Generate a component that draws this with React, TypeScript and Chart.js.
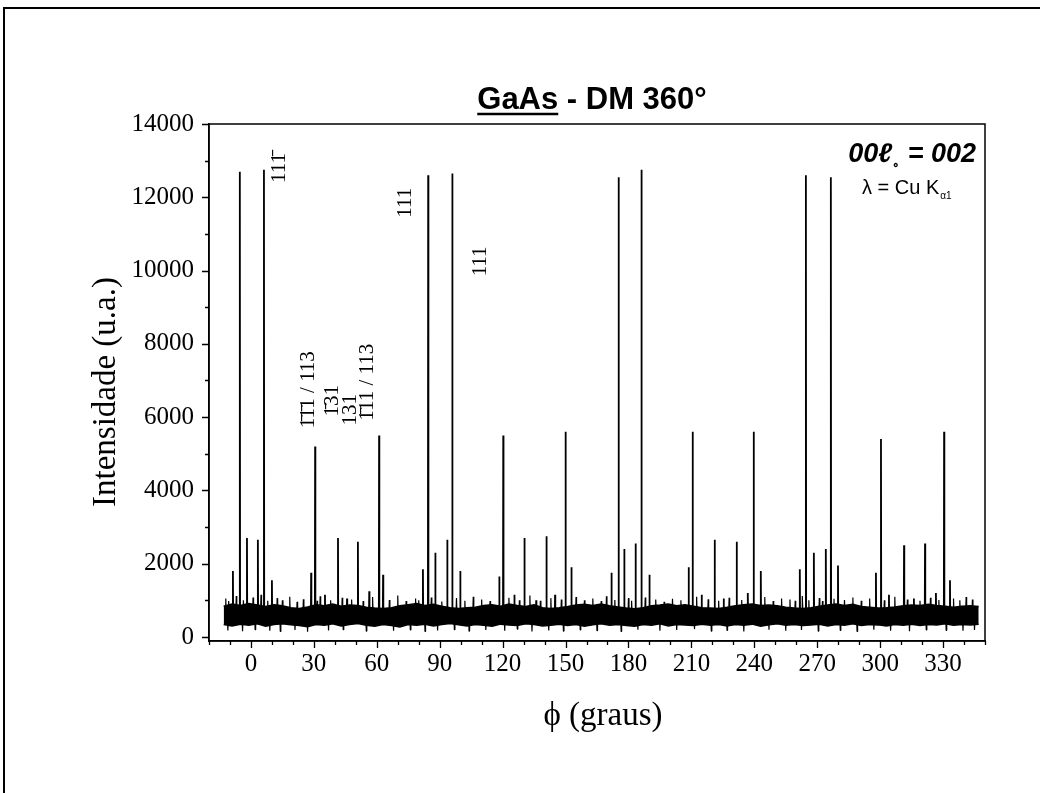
import React, { useEffect, useRef } from 'react';
import { Chart, registerables } from 'chart.js';

Chart.register(...registerables);

// ---- axes ----
const xMin = -20;
const xMax = 350;
const yMin = -110;
const yMax = 14000;
const xMajorTicks = [0, 30, 60, 90, 120, 150, 180, 210, 240, 270, 300, 330];
const xMinorTicks = [-20, -10, 10, 20, 40, 50, 70, 80, 100, 110, 130, 140, 160, 170, 190, 200, 220, 230, 250, 260, 280, 290, 310, 320, 340, 350];
const yMajorTicks = [0, 2000, 4000, 6000, 8000, 10000, 12000, 14000];
const yMinorTicks = [1000, 3000, 5000, 7000, 9000, 11000, 13000];

// ---- Bragg peaks (phi in degrees, intensity) ----
const peakPhi = [
  -8.6, -5.3, -1.9, 3.3, 6.2, 10.0,
  28.7, 30.6, 35.3, 41.5, 45.8, 51.0, 56.4, 61.1, 63.0,
  82.0, 84.5, 87.9, 93.6, 96.0, 99.8,
  118.4, 120.3, 125.6, 130.4, 136.0, 140.9, 145.0, 150.0, 152.8,
  171.9, 175.3, 178.0, 183.4, 186.2, 190.0,
  208.7, 210.6, 214.9, 221.1, 225.4, 231.6, 236.9, 239.7, 243.1,
  261.7, 264.6, 268.4, 274.1, 276.5, 279.9,
  298.0, 300.4, 304.2, 311.4, 316.1, 321.4, 326.6, 330.5, 333.3,
];
const peakIntensity = [
  1800, 12700, 2700, 2650, 12750, 1550,
  1750, 5200, 1150, 2700, 1050, 2600, 1250, 5500, 1700,
  1850, 12600, 2300, 2650, 12650, 1800,
  1650, 5500, 1150, 2700, 1000, 2750, 1150, 5600, 1900,
  1750, 12550, 2400, 2550, 12750, 1700,
  1900, 5600, 1150, 2650, 1050, 2600, 1200, 5600, 1800,
  1850, 12600, 2300, 2400, 12550, 1950,
  1750, 5400, 1150, 2500, 1050, 2550, 1200, 5600, 1550,
];
const peakBase = 580;

// ---- background noise band (upper / lower envelope, every 4 degrees from -13) ----
const noiseStart = -13;
const noiseStep = 4;
const noiseHigh = [
  840, 900, 860, 910, 870, 830, 880, 850, 800, 780,
  820, 880, 850, 900, 840, 870, 860, 810, 790, 780,
  800, 850, 880, 910, 860, 890, 840, 800, 780, 800,
  810, 860, 880, 840, 900, 860, 830, 880, 800, 780,
  800, 830, 870, 890, 860, 900, 850, 820, 790, 770,
  800, 850, 870, 900, 850, 880, 840, 800, 790, 780,
  810, 850, 880, 900, 860, 870, 850, 810, 790, 780,
  800, 840, 870, 900, 860, 890, 830, 810, 790, 800,
  820, 850, 870, 860, 890, 860, 840, 810, 840, 850, 830,
];
const noiseLow = [
  340, 300, 350, 320, 360, 290, 340, 360, 330, 310,
  280, 340, 320, 360, 300, 340, 370, 320, 290, 340,
  310, 270, 340, 320, 350, 300, 340, 370, 330, 300,
  340, 320, 290, 350, 330, 310, 360, 340, 300, 320,
  350, 310, 340, 290, 330, 360, 320, 340, 310, 290,
  340, 320, 360, 300, 340, 330, 310, 350, 320, 340,
  300, 340, 320, 350, 290, 330, 360, 320, 340, 310,
  330, 350, 300, 340, 320, 360, 310, 340, 330, 300,
  340, 320, 350, 310, 340, 330, 360, 320, 340, 330, 350,
];

// ---- small noise excursions above / below the band ----
const noiseSpikePhi = [
  -12, -11, -10.5, -7, -4, -3.5, 1, 2, 4.8, 8, 9, 12.5, 14, 15, 18.5, 21, 22, 25, 27, 31.5,
  33, 37, 38, 43.5, 44, 48, 53.5, 55, 58, 66, 68, 70, 74, 76, 78.5, 80, 83, 86, 89, 91,
  97, 98, 102, 104, 106, 110, 112, 114, 121, 123, 127, 128, 133, 134, 138, 142, 143, 148, 149, 155,
  157, 159, 163, 165, 167, 169.5, 173.5, 176.5, 180, 181.5, 184.5, 188, 193, 195, 197, 201, 203, 205, 211.5, 212.5,
  218, 219.5, 223, 227, 228, 234, 235, 245, 247, 249, 253, 255, 257, 259.5, 262.5, 263, 266, 270.5, 271, 272.5,
  278, 281, 283, 287, 289, 291, 295, 297, 302, 305, 307, 313, 314, 319, 322, 324, 328, 331.5, 335, 338,
  339.5, 341, 344, 345,
];
const noiseSpikeValue = [
  1050, 180, 980, 1120, 160, 1000, 1080, 200, 1150, 990, 170, 1060, 150, 1000, 1100, 190, 960, 1030, 140, 990,
  1110, 180, 1000, 1070, 200, 1020, 980, 160, 1090, 1010, 170, 1130, 980, 190, 1050, 1000, 150, 1080, 180, 970,
  200, 1060, 990, 160, 1100, 1020, 190, 980, 170, 1070, 210, 1000, 1130, 150, 990, 180, 1060, 1020, 160, 1090,
  190, 1000, 1050, 170, 980, 1110, 1010, 150, 1060, 990, 200, 1080, 1020, 170, 960, 1040, 190, 1000, 210, 1100,
  1030, 160, 990, 180, 1070, 1010, 150, 1090, 200, 980, 1050, 170, 1020, 990, 190, 1120, 1000, 160, 1060, 980,
  1040, 180, 1010, 1080, 150, 990, 1050, 200, 1000, 170, 1100, 1020, 160, 990, 190, 1070, 1010, 180, 1050, 1000,
  170, 1090, 1020, 190,
];
const noiseSpikeBase = 580;

// ---- peak indexing labels ----
const peakLabelText = ['11\u0031\u0304', '111', '111', '\u0031\u0304\u0031\u0304\u0031 / 113', '\u0031\u030411 / 113', '\u0031\u030431', '131'];
const peakLabelPhi = [13.8, 73.5, 109.4, 27.2, 55.4, 39.0, 47.5];
const peakLabelValue = [12800, 11850, 10250, 6750, 6950, 6450, 6200];

const SERIF = '"Liberation Serif", "Times New Roman", serif';
const SANS = '"Liberation Sans", Arial, sans-serif';

const decorPlugin = {
  id: 'decor',
  beforeDraw(chart: any) {
    const ctx = chart.ctx;
    ctx.save();
    ctx.fillStyle = '#ffffff';
    ctx.fillRect(0, 0, chart.width, chart.height);
    ctx.restore();
  },
  afterDraw(chart: any) {
    const ctx = chart.ctx as CanvasRenderingContext2D;
    const a = chart.chartArea;
    const xs = chart.scales.x;
    const ys = chart.scales.y;
    ctx.save();
    ctx.strokeStyle = '#000';
    ctx.fillStyle = '#000';

    // page frame (top and left)
    ctx.lineWidth = 2;
    ctx.beginPath();
    ctx.moveTo(4, 793);
    ctx.lineTo(4, 8);
    ctx.lineTo(1040, 8);
    ctx.stroke();

    // plot box
    ctx.lineWidth = 1.5;
    ctx.strokeRect(a.left, a.top, a.right - a.left, a.bottom - a.top);

    // ticks
    ctx.lineWidth = 1.3;
    ctx.beginPath();
    for (const v of xMajorTicks) {
      const p = Math.round(xs.getPixelForValue(v)) + 0.5;
      ctx.moveTo(p, a.bottom);
      ctx.lineTo(p, a.bottom + 7);
    }
    for (const v of xMinorTicks) {
      const p = Math.round(xs.getPixelForValue(v)) + 0.5;
      ctx.moveTo(p, a.bottom);
      ctx.lineTo(p, a.bottom + 4);
    }
    for (const v of yMajorTicks) {
      const p = Math.round(ys.getPixelForValue(v)) + 0.5;
      ctx.moveTo(a.left, p);
      ctx.lineTo(a.left - 7, p);
    }
    for (const v of yMinorTicks) {
      const p = Math.round(ys.getPixelForValue(v)) + 0.5;
      ctx.moveTo(a.left, p);
      ctx.lineTo(a.left - 4, p);
    }
    ctx.stroke();

    // title with underlined "GaAs"
    ctx.font = 'bold 31px ' + SANS;
    ctx.textBaseline = 'alphabetic';
    ctx.textAlign = 'left';
    const t1 = 'GaAs';
    const t2 = ' - DM 360\u00B0';
    const w1 = ctx.measureText(t1).width;
    const w2 = ctx.measureText(t2).width;
    const tx = 592 - (w1 + w2) / 2;
    const ty = 109;
    ctx.fillText(t1, tx, ty);
    ctx.fillText(t2, tx + w1, ty);
    ctx.lineWidth = 2.5;
    ctx.beginPath();
    ctx.moveTo(tx, ty + 5);
    ctx.lineTo(tx + w1, ty + 5);
    ctx.stroke();

    // axis titles
    ctx.font = '33px ' + SERIF;
    ctx.textAlign = 'center';
    ctx.textBaseline = 'middle';
    ctx.fillText('\u03D5 (graus)', 603, 716);
    ctx.save();
    ctx.translate(106, 392);
    ctx.rotate(-Math.PI / 2);
    ctx.fillText('Intensidade (u.a.)', 0, 0);
    ctx.restore();

    // annotation top-right
    const rx = 976;
    ctx.textBaseline = 'alphabetic';
    ctx.textAlign = 'left';
    const bigFont = 'italic bold 27px ' + SANS;
    ctx.font = bigFont;
    const s1 = '00\u2113';
    const s3 = ' = 002';
    const ws1 = ctx.measureText(s1).width;
    const ws3 = ctx.measureText(s3).width;
    ctx.font = 'bold 12px ' + SANS;
    const s2 = '\u2218';
    const ws2 = ctx.measureText(s2).width;
    const sx = rx - (ws1 + ws2 + ws3);
    const sy = 162;
    ctx.font = bigFont;
    ctx.fillText(s1, sx, sy);
    ctx.font = 'bold 12px ' + SANS;
    ctx.fillText(s2, sx + ws1, sy + 7);
    ctx.font = bigFont;
    ctx.fillText(s3, sx + ws1 + ws2, sy);

    ctx.font = '20px ' + SANS;
    const l1 = '\u03BB = Cu K';
    const wl1 = ctx.measureText(l1).width;
    ctx.fillText(l1, 862, 194);
    ctx.font = '10px ' + SANS;
    ctx.fillText('\u03B11', 862 + wl1 + 1, 199);

    // peak labels (rotated)
    ctx.font = '21px ' + SERIF;
    ctx.textAlign = 'center';
    ctx.textBaseline = 'middle';
    for (let i = 0; i < peakLabelText.length; i++) {
      const px = xs.getPixelForValue(peakLabelPhi[i]);
      const py = ys.getPixelForValue(peakLabelValue[i]);
      ctx.save();
      ctx.translate(px, py);
      ctx.rotate(-Math.PI / 2);
      ctx.fillText(peakLabelText[i], 0, 0);
      ctx.restore();
    }
    ctx.restore();
  },
};

function spikeSeries(pos: number[], val: number[], base: number, half: number) {
  const order = pos.map((_, i) => i).sort((a, b) => pos[a] - pos[b]);
  const out: { x: number; y: number }[] = [];
  for (const i of order) {
    out.push({ x: pos[i] - half, y: base });
    out.push({ x: pos[i], y: val[i] });
    out.push({ x: pos[i] + half, y: base });
  }
  return out;
}

export default function App() {
  const canvasRef = useRef<HTMLCanvasElement | null>(null);

  useEffect(() => {
    if (!canvasRef.current) return;

    const lowData = noiseLow.map((v, i) => ({ x: noiseStart + i * noiseStep, y: v }));
    const highData = noiseHigh.map((v, i) => ({ x: noiseStart + i * noiseStep, y: v }));
    const noiseData = spikeSeries(noiseSpikePhi, noiseSpikeValue, noiseSpikeBase, 0.25);
    const peakData = spikeSeries(peakPhi, peakIntensity, peakBase, 0.12);

    const chart = new Chart(canvasRef.current, {
      type: 'line',
      data: {
        datasets: [
          {
            data: lowData,
            borderColor: '#000',
            borderWidth: 1.5,
            pointRadius: 0,
            fill: false,
            tension: 0,
          },
          {
            data: highData,
            borderColor: '#000',
            backgroundColor: '#000',
            borderWidth: 1.5,
            pointRadius: 0,
            fill: '-1',
            tension: 0,
          },
          {
            data: noiseData,
            borderColor: '#000',
            borderWidth: 1.2,
            borderJoinStyle: 'bevel',
            pointRadius: 0,
            fill: false,
            tension: 0,
          },
          {
            data: peakData,
            borderColor: '#000',
            borderWidth: 1.8,
            borderJoinStyle: 'bevel',
            pointRadius: 0,
            fill: false,
            tension: 0,
          },
        ],
      } as any,
      options: {
        responsive: false,
        animation: false,
        layout: { padding: { top: 124, right: 55, bottom: 0, left: 0 } },
        plugins: {
          legend: { display: false },
          tooltip: { enabled: false },
          title: { display: false },
        },
        scales: {
          x: {
            type: 'linear',
            min: xMin,
            max: xMax,
            afterBuildTicks: (s: any) => {
              s.ticks = xMajorTicks.map((v) => ({ value: v }));
            },
            afterFit: (s: any) => {
              s.height = 152;
            },
            ticks: {
              autoSkip: false,
              maxRotation: 0,
              padding: 8,
              color: '#000',
              font: { family: SERIF, size: 25 },
              callback: (v: any) => String(v),
            },
            grid: { display: false, drawTicks: false },
            border: { display: true, color: '#000', width: 1.5 },
          },
          y: {
            type: 'linear',
            min: yMin,
            max: yMax,
            afterBuildTicks: (s: any) => {
              s.ticks = yMajorTicks.map((v) => ({ value: v }));
            },
            afterFit: (s: any) => {
              s.width = 209;
            },
            ticks: {
              autoSkip: false,
              padding: 15,
              color: '#000',
              font: { family: SERIF, size: 25 },
              callback: (v: any) => String(v),
            },
            grid: { display: false, drawTicks: false },
            border: { display: true, color: '#000', width: 1.5 },
          },
        },
      } as any,
      plugins: [decorPlugin],
    });

    return () => chart.destroy();
  }, []);

  return (
    <div style={{ position: 'absolute', left: 0, top: 0, width: 1040, height: 793, background: '#fff' }}>
      <canvas ref={canvasRef} width={1040} height={793} style={{ display: 'block', width: 1040, height: 793 }} />
    </div>
  );
}
